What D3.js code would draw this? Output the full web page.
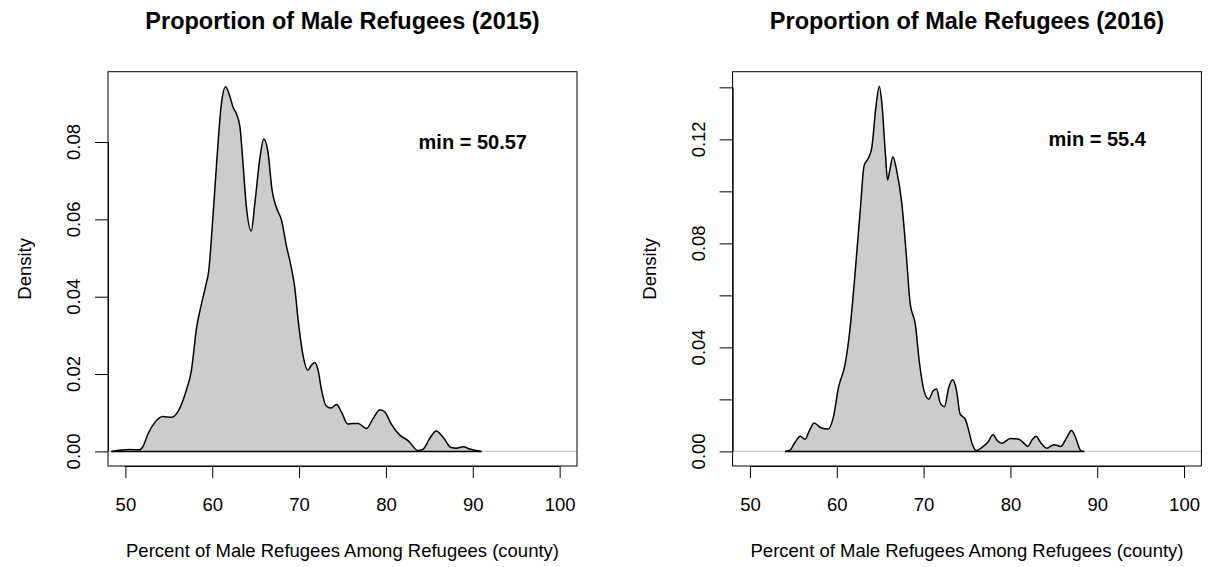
<!DOCTYPE html>
<html>
<head>
<meta charset="utf-8">
<script src="https://cdn.jsdelivr.net/npm/d3@7"></script>
<style>
  html, body { margin: 0; padding: 0; background: #fff; }
  svg text { font-family: "Liberation Sans", Arial, sans-serif; fill: #000; }
</style>
</head>
<body>
<svg id="chart" width="1216" height="567"></svg>
<script>
// ---------------- data ----------------
const titles = ["Proportion of Male Refugees (2015)", "Proportion of Male Refugees (2016)"];
const minLabels = ["min = 50.57", "min = 55.4"];
const xTicks = [50, 60, 70, 80, 90, 100];
const yTicks2015 = [0, 0.02, 0.04, 0.06, 0.08];
const yLabels2015 = [0, 0.02, 0.04, 0.06, 0.08];
const yTicks2016 = [0, 0.02, 0.04, 0.06, 0.08, 0.10, 0.12, 0.14];
const yLabels2016 = [0, 0.04, 0.08, 0.12];
const xLabel = "Percent of Male Refugees Among Refugees (county)";
const yLabel = "Density";

const x2015 = [48.4, 50.5, 51.65, 52.0, 52.6, 53.4, 54.3, 55.3, 56.1, 57.0, 57.6, 58.2, 58.75, 59.3, 59.6, 60.0, 60.5, 61.05, 61.55, 62.0, 62.4, 62.8, 63.2, 63.55, 63.9, 64.5, 64.9, 65.5, 65.93, 66.4, 66.9, 67.4, 68.0, 68.5, 69.1, 69.5, 69.9, 70.5, 71.0, 71.4, 71.8, 72.2, 72.6, 73.1, 73.7, 74.3, 74.9, 75.6, 76.2, 76.8, 77.75, 78.5, 79.3, 79.9, 80.6, 81.6, 82.55, 83.7, 84.3, 85.0, 85.8, 86.6, 87.5, 88.1, 88.9, 89.65, 91.0];
const d2015 = [0, 0.0005, 0.0004, 0.0012, 0.0045, 0.0075, 0.009, 0.0088, 0.0105, 0.0157, 0.0209, 0.032, 0.038, 0.0433, 0.0467, 0.058, 0.0743, 0.0898, 0.0943, 0.092, 0.089, 0.0872, 0.0838, 0.0743, 0.064, 0.057, 0.064, 0.076, 0.0808, 0.0777, 0.0674, 0.063, 0.0596, 0.0536, 0.0476, 0.0424, 0.0338, 0.0243, 0.021, 0.0222, 0.023, 0.0209, 0.0157, 0.0118, 0.0112, 0.0121, 0.0101, 0.0071, 0.0072, 0.0072, 0.0059, 0.0084, 0.0108, 0.0101, 0.0071, 0.0042, 0.0028, 0.0002, 0.0006, 0.0032, 0.0053, 0.0036, 0.001, 0.0008, 0.0012, 0.0006, 0];

const x2016 = [54.04, 54.6, 55.2, 55.8, 56.35, 56.85, 57.4, 58.1, 59.0, 59.6, 60.2, 60.96, 61.5, 62.1, 62.7, 63.15, 63.65, 64.04, 64.5, 64.9, 65.2, 65.6, 65.85, 66.1, 66.46, 66.9, 67.5, 68.0, 68.46, 69.04, 69.54, 70.1, 70.6, 71.1, 71.5, 71.9, 72.4, 72.9, 73.35, 73.8, 74.2, 74.8, 75.2, 75.6, 76.1, 76.7, 77.4, 78.0, 78.5, 79.0, 80.0, 80.96, 81.46, 82.0, 82.5, 82.96, 83.46, 84.2, 85.0, 85.8, 86.5, 87.04, 87.5, 88.1, 88.5];
const d2016 = [0, 0.0005, 0.0035, 0.0058, 0.0047, 0.008, 0.0109, 0.0092, 0.0086, 0.0131, 0.0246, 0.0336, 0.0464, 0.0682, 0.0926, 0.1099, 0.1128, 0.1169, 0.1323, 0.1403, 0.1336, 0.1144, 0.1044, 0.108, 0.1133, 0.108, 0.0951, 0.0759, 0.0567, 0.049, 0.0336, 0.0227, 0.0201, 0.0233, 0.024, 0.0188, 0.0172, 0.0246, 0.0276, 0.0233, 0.0144, 0.0124, 0.008, 0.0028, 0.0003, 0.0015, 0.0035, 0.0064, 0.0041, 0.0031, 0.005, 0.0047, 0.0035, 0.0019, 0.0045, 0.0058, 0.0035, 0.0012, 0.0026, 0.0019, 0.0054, 0.008, 0.0054, 0.0003, 0];

// ---------------- layout ----------------
const panels = [
  { title: titles[0], minLabel: minLabels[0], minPos: [90, 0.08], xs: x2015, ds: d2015,
    yTicks: yTicks2015, yLabels: yLabels2015, yMax: 0.0944,
    left: 108, right: 577 },
  { title: titles[1], minLabel: minLabels[1], minPos: [90, 0.12], xs: x2016, ds: d2016,
    yTicks: yTicks2016, yLabels: yLabels2016, yMax: 0.1404,
    left: 732.6, right: 1201.4 }
];
const boxTop = 71.7, boxBottom = 466;
const axisFont = 18.5;

const svg = d3.select("#chart");

panels.forEach(p => {
  const xr = [50 - 0.04 * 50, 100 + 0.04 * 50]; // R style 4% extension
  const x = d3.scaleLinear().domain(xr).range([p.left, p.right]);
  const yr = [0 - 0.04 * p.yMax, p.yMax + 0.04 * p.yMax];
  const y = d3.scaleLinear().domain(yr).range([boxBottom, boxTop]);
  const g = svg.append("g");

  // gray zero line (abline)
  g.append("line")
    .attr("x1", p.left).attr("x2", p.right)
    .attr("y1", y(0)).attr("y2", y(0))
    .attr("stroke", "#bebebe").attr("stroke-width", 1);

  const pts = p.xs.map((v, i) => [v, p.ds[i]]);

  // filled polygon
  const area = d3.area()
    .x(d => x(d[0])).y0(y(0)).y1(d => y(d[1]))
    .curve(d3.curveMonotoneX);
  g.append("path").datum(pts)
    .attr("d", area)
    .attr("fill", "#cccccc")
    .attr("stroke", "none");

  // outline including baseline
  const line = d3.line().x(d => x(d[0])).y(d => y(d[1])).curve(d3.curveMonotoneX);
  g.append("path").datum(pts)
    .attr("d", line)
    .attr("fill", "none").attr("stroke", "#000").attr("stroke-width", 1.5)
    .attr("stroke-linejoin", "round");
  g.append("line")
    .attr("x1", x(p.xs[0])).attr("x2", x(p.xs[p.xs.length - 1]))
    .attr("y1", y(0)).attr("y2", y(0))
    .attr("stroke", "#000").attr("stroke-width", 1.5);

  // box
  g.append("rect")
    .attr("x", p.left).attr("y", boxTop)
    .attr("width", p.right - p.left).attr("height", boxBottom - boxTop)
    .attr("fill", "none").attr("stroke", "#000").attr("stroke-width", 1);

  // x axis
  const xAxis = d3.axisBottom(x).tickValues(xTicks).tickSize(12)
    .tickFormat(d3.format("d"));
  const xa = g.append("g").attr("transform", `translate(0,${boxBottom})`).call(xAxis);
  xa.select(".domain").attr("d", `M${x(xTicks[0])},0.5H${x(xTicks[xTicks.length - 1])}`);
  xa.selectAll("text").attr("font-size", axisFont).attr("font-family", "Liberation Sans, Arial, sans-serif")
    .attr("y", 45).attr("dy", "0");
  xa.selectAll("line, path").attr("stroke", "#000");

  // y axis
  const yAxis = d3.axisLeft(y).tickValues(p.yTicks).tickSize(13).tickFormat("");
  const ya = g.append("g").attr("transform", `translate(${p.left},0)`).call(yAxis);
  ya.select(".domain").attr("d", `M0.5,${y(p.yTicks[0])}V${y(p.yTicks[p.yTicks.length - 1])}`);
  ya.selectAll("line, path").attr("stroke", "#000");
  g.selectAll(".ylab").data(p.yLabels).enter().append("text")
    .attr("class", "ylab")
    .attr("transform", d => `translate(${p.left - 28},${y(d)}) rotate(-90)`)
    .attr("text-anchor", "middle")
    .attr("font-size", axisFont)
    .text(d => d3.format(".2f")(d));

  // titles
  g.append("text")
    .attr("x", (p.left + p.right) / 2).attr("y", 29)
    .attr("text-anchor", "middle").attr("font-weight", "bold").attr("font-size", 23.5)
    .text(p.title);
  g.append("text")
    .attr("x", (p.left + p.right) / 2).attr("y", 557)
    .attr("text-anchor", "middle").attr("font-size", axisFont)
    .text(xLabel);
  g.append("text")
    .attr("transform", `translate(${p.left - 77},${(boxTop + boxBottom) / 2}) rotate(-90)`)
    .attr("text-anchor", "middle").attr("font-size", axisFont)
    .text(yLabel);

  // min annotation
  g.append("text")
    .attr("x", x(p.minPos[0])).attr("y", y(p.minPos[1]))
    .attr("dy", "0.35em")
    .attr("text-anchor", "middle").attr("font-weight", "bold").attr("font-size", 20)
    .text(p.minLabel);
});
</script>
</body>
</html>
